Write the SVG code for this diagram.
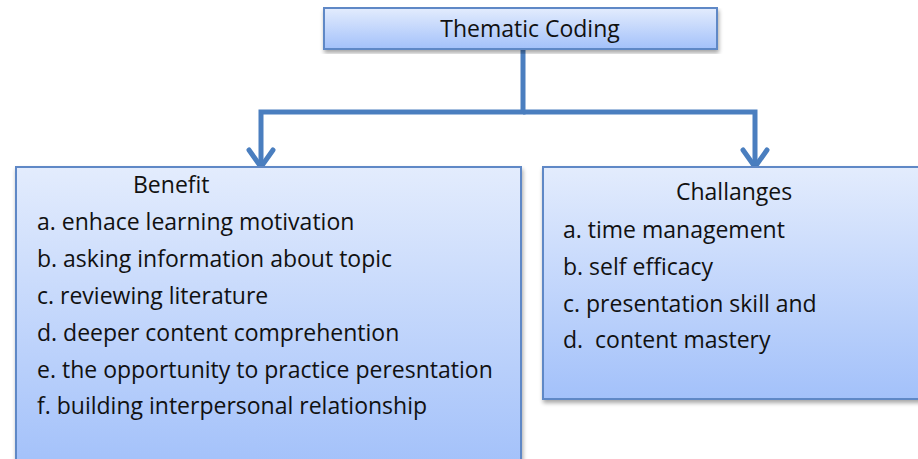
<svg xmlns="http://www.w3.org/2000/svg" width="918" height="459" viewBox="0 0 918 459">
<defs>
<linearGradient id="g" x1="0" y1="0" x2="0" y2="1">
<stop offset="0" stop-color="#e3ecfd"/>
<stop offset="1" stop-color="#a3c1fa"/>
</linearGradient>
<filter id="sh" x="-5%" y="-5%" width="110%" height="115%">
<feGaussianBlur in="SourceAlpha" stdDeviation="2"/>
<feOffset dx="1" dy="3"/>
<feComponentTransfer><feFuncA type="linear" slope="0.35"/></feComponentTransfer>
<feMerge><feMergeNode/><feMergeNode in="SourceGraphic"/></feMerge>
</filter>
</defs>
<style>
.box{fill:url(#g);stroke:#5e88c6;stroke-width:2;filter:url(#sh)}
.t{font-family:"Open Sans","Liberation Sans",sans-serif;font-size:23px;fill:#111;white-space:pre}
.c{fill:none;stroke:#4a7ebf;stroke-width:5;stroke-linejoin:miter}
.ah{fill:none;stroke:#4a7ebf;stroke-width:5;stroke-linecap:round;stroke-linejoin:miter}
</style>
<g id="connectors">
<polyline class="c" points="523,49 523,112 261,112 261,168"/>
<polyline class="c" points="523,112 755,112 755,168"/>
<polyline class="ah" points="249,150 261,167 273,150"/>
<polyline class="ah" points="743,150 755,167 767,150"/>
</g>
<g id="thematic">
<rect class="box" x="324" y="8" width="393" height="41"/>
<text class="t" x="530" y="37" text-anchor="middle">Thematic Coding</text>
</g>
<g id="benefit">
<rect class="box" x="16" y="167" width="505" height="300"/>
<text class="t" x="133" y="193">Benefit</text>
<text class="t" x="37" y="230">a. enhace learning motivation</text>
<text class="t" x="37" y="267">b. asking information about topic</text>
<text class="t" x="37" y="304">c. reviewing literature</text>
<text class="t" x="37" y="341">d. deeper content comprehention</text>
<text class="t" x="37" y="378">e. the opportunity to practice peresntation</text>
<text class="t" x="37" y="414">f. building interpersonal relationship</text>
</g>
<g id="challanges">
<rect class="box" x="543" y="167" width="385" height="232"/>
<text class="t" x="676" y="200">Challanges</text>
<text class="t" x="563" y="238">a. time management</text>
<text class="t" x="563" y="275">b. self efficacy</text>
<text class="t" x="563" y="312">c. presentation skill and</text>
<text class="t" x="563" y="348" xml:space="preserve">d.  content mastery</text>
</g>
</svg>
